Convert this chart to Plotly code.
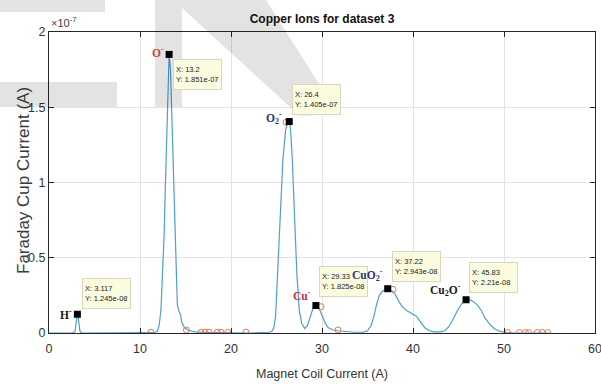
import plotly.graph_objects as go

# ---------------- data ----------------
coil_current = [0, 1, 2, 2.6, 2.85, 2.95, 3.05, 3.117, 3.2, 3.3, 3.4, 3.6, 5, 7, 9, 10, 11,
                11.5, 11.9, 12.1, 12.3, 12.5, 12.65, 12.8, 12.95, 13.1, 13.2, 13.35, 13.5,
                13.65, 13.8, 13.95, 14.1, 14.25, 14.45, 14.6, 14.9, 15.3, 16, 17, 18, 20, 22,
                23.5, 24.2, 24.5, 24.7, 24.9, 25.1, 25.4, 25.7, 26.0, 26.2, 26.4, 26.55, 26.74,
                26.96, 27.15, 27.25, 27.35, 27.5, 27.77, 28.1, 28.4, 28.7, 29.05, 29.33, 29.6,
                29.85, 30.1, 30.4, 30.7, 31.2, 31.8, 32.5, 33.5, 34.5, 35.0, 35.4, 35.7, 36.0,
                36.3, 36.7, 37.0, 37.22, 37.6, 38.0, 38.4, 38.8, 39.3, 39.9, 40.4, 40.8, 41.3,
                41.8, 42.3, 43.0, 43.5, 43.9, 44.3, 44.8, 45.3, 45.83, 46.3, 46.7, 47.1, 47.5,
                47.9, 48.4, 48.9, 49.5, 50.2, 51, 52, 53, 54, 55]
# Faraday cup current in units of 1e-7 A
cup_current = [0, 0, 0, 0, 0.01, 0.06, 0.11, 0.1245, 0.11, 0.06, 0.012, 0, 0, 0, 0, 0, 0,
               0.002, 0.01, 0.05, 0.15, 0.4, 0.65, 1.0, 1.35, 1.72, 1.851, 1.75, 1.45,
               1.05, 0.7, 0.4, 0.19, 0.15, 0.12, 0.07, 0.035, 0.018, 0.008, 0.004, 0.002, 0.001, 0,
               0.002, 0.005, 0.012, 0.035, 0.11, 0.37, 0.82, 1.15, 1.35, 1.39, 1.405, 1.35, 1.15,
               0.82, 0.45, 0.37, 0.3, 0.15, 0.065, 0.03, 0.05, 0.11, 0.17, 0.1825, 0.17,
               0.14, 0.105, 0.06, 0.035, 0.02, 0.015, 0.01, 0.005, 0.006, 0.015, 0.05, 0.11, 0.19,
               0.25, 0.28, 0.29, 0.2943, 0.285, 0.26, 0.215, 0.175, 0.15, 0.13, 0.11, 0.075, 0.035,
               0.015, 0.008, 0.008, 0.015, 0.04, 0.08, 0.14, 0.19, 0.221, 0.22, 0.205, 0.185, 0.15,
               0.1, 0.06, 0.03, 0.012, 0.003, 0, 0, 0, 0, 0]
assert len(coil_current) == len(cup_current)

peak_x = [3.117, 13.2, 26.4, 29.33, 37.22, 45.83]
peak_y = [0.1245, 1.851, 1.405, 0.1825, 0.2943, 0.221]
peak_ions = ["H<sup>-</sup>", "O<sup>-</sup>", "O<sub>2</sub><sup>-</sup>", "Cu<sup>-</sup>",
             "CuO<sub>2</sub><sup>-</sup>", "Cu<sub>2</sub>O<sup>-</sup>"]
tip_x_text = ["3.117", "13.2", "26.4", "29.33", "37.22", "45.83"]
tip_y_text = ["1.245e-08", "1.851e-07", "1.405e-07", "1.825e-08", "2.943e-08", "2.21e-08"]

circle_x = [11.2, 15.1, 16.7, 17.15, 17.6, 18.5, 18.9, 19.65, 21.65, 26.05, 29.9, 31.75, 37.8,
            50.4, 51.7, 52.35, 52.7, 53.65, 54.2, 54.8]
circle_y = [0.005, 0.02, 0.005, 0.005, 0.005, 0.005, 0.005, 0.005, 0.005, 1.40, 0.175, 0.02, 0.29,
            0.003, 0.003, 0.003, 0.003, 0.003, 0.003, 0.003]

x_ticks = [0, 10, 20, 30, 40, 50, 60]
y_ticks = [0, 0.5, 1, 1.5, 2]
y_tick_text = ["0", "0.5", "1", "1.5", "2"]

# ---------------- styles ----------------
W, H = 601, 386
L, R, T, B = 49, 6, 32, 53
SANS = "Liberation Sans, Arial, sans-serif"
SERIF = "Liberation Serif, Times New Roman, serif"
ion_colors = ["#1a1a1a", "#b4503a", "#2b3585", "#d42a3c", "#2b3585", "#1a1a1a"]
# label offsets (pixels) relative to datatip marker
ion_shift = [(-3, 0), (-3, 2), (-5, 4), (-3, 11), (-3, 14), (-3, 10)]
tip_anchor = ["bottom", "top", "bottom", "bottom", "bottom", "bottom"]
tip_shift = [(5, 5), (4, -5), (3, 7), (3, 9), (4, 7), (3, 7)]

fig = go.Figure()
fig.add_trace(go.Scatter(x=coil_current, y=cup_current, mode="lines",
                         line=dict(color="#4f9ecb", width=1.2), showlegend=False))
fig.add_trace(go.Scatter(x=circle_x, y=circle_y, mode="markers",
                         marker=dict(symbol="circle-open", size=6, color="#e07a55",
                                     line=dict(width=1)), showlegend=False))
fig.add_trace(go.Scatter(x=peak_x, y=peak_y, mode="markers",
                         marker=dict(symbol="square", size=7, color="black"), showlegend=False))

for i in range(len(peak_x)):
    fig.add_annotation(x=peak_x[i], y=peak_y[i],
                       text="X: " + tip_x_text[i] + "<br>Y: " + tip_y_text[i],
                       showarrow=False, xanchor="left", yanchor=tip_anchor[i], align="left",
                       valign="middle", width=43, height=25,
                       xshift=tip_shift[i][0], yshift=tip_shift[i][1],
                       bgcolor="#fbfbe0", bordercolor="#d8d8c0", borderwidth=1, borderpad=2,
                       font=dict(family=SANS, size=7.5, color="#222222"))
for i in range(len(peak_x)):
    fig.add_annotation(x=peak_x[i], y=peak_y[i], text="<b>" + peak_ions[i] + "</b>",
                       showarrow=False, xanchor="right", yanchor="middle",
                       xshift=ion_shift[i][0], yshift=ion_shift[i][1],
                       font=dict(family=SERIF, size=11.5, color=ion_colors[i]))

pw, ph = W - L - R, H - T - B
def px(xp):
    return (xp - L) / pw
def py(yp):
    return (H - B - yp) / ph

# exponent label
fig.add_annotation(xref="paper", yref="paper", x=0, y=1, text="×10<sup>-7</sup>",
                   showarrow=False, xanchor="left", yanchor="bottom", yshift=1,
                   font=dict(family=SANS, size=11, color="#404040"))
# y-axis title
fig.add_annotation(xref="paper", yref="paper", x=px(23), y=py(181),
                   text="Faraday Cup Current (A)", textangle=-90, showarrow=False,
                   xanchor="center", yanchor="middle",
                   font=dict(family=SANS, size=17, color="#3a3a3a"))

# watermark (light grey overlay)
def poly(pts):
    return "M " + " L ".join(f"{px(a):.4f},{py(b):.4f}" for a, b in pts) + " Z"

wm = [
    [(0, 0), (105, 0), (105, 12), (0, 12)],
    [(0, 82), (117, 82), (117, 107), (0, 107)],
    [(155, 0), (182, 0), (182, 107), (155, 107)],
    [(182, 0), (266, 0), (338, 114), (300, 116), (182, 8)],
]
for p in wm:
    fig.add_shape(type="path", xref="paper", yref="paper", path=poly(p),
                  fillcolor="rgba(0,0,0,0.11)", line=dict(width=0), layer="above")

axis_common = dict(showline=True, linecolor="#262626", linewidth=1, mirror="ticks",
                   ticks="inside", ticklen=5, tickcolor="#262626", showgrid=True,
                   gridcolor="#e3e3e3", gridwidth=1, zeroline=False, automargin=False,
                   tickfont=dict(family=SANS, size=12.5, color="#333333"))

fig.update_layout(
    width=W, height=H,
    margin=dict(l=L, r=R, t=T, b=B),
    paper_bgcolor="white", plot_bgcolor="white",
    title=dict(text="<b>Copper Ions for dataset 3</b>", x=0.5 * (L + W - R) / W, xanchor="center",
               y=1 - 19 / H, yanchor="middle",
               font=dict(family=SANS, size=12, color="#111111")),
    xaxis=dict(range=[0, 60], tickvals=x_ticks, ticklabelstandoff=4,
               ticklabeloverflow="allow",
               title=dict(text="Magnet Coil Current (A)", standoff=14,
                          font=dict(family=SANS, size=12.5, color="#333333")),
               **axis_common),
    yaxis=dict(range=[0, 2], tickvals=y_ticks, ticktext=y_tick_text, **axis_common),
)

fig.write_html("out.html")
